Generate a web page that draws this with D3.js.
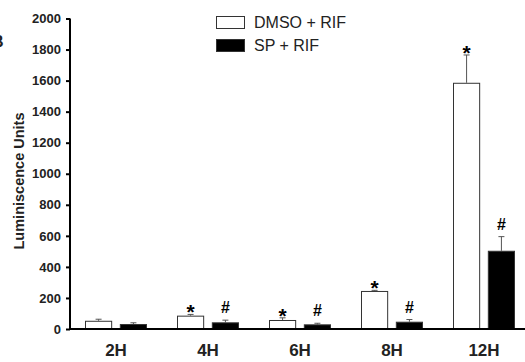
<!DOCTYPE html>
<html><head><meta charset="utf-8">
<script src="https://cdn.jsdelivr.net/npm/d3@7"></script>
<style>body{margin:0;background:#fff}svg{display:block}</style>
</head><body>
<svg id="c" width="525" height="362"></svg>
<script>
const categories = ["2H","4H","6H","8H","12H"];
const seriesNames = ["DMSO + RIF","SP + RIF"];
const dmsoValues = [53, 86, 58, 245, 1586];
const dmsoErrors = [10, 8, 14, 4, 179];
const spValues = [32, 43, 30, 47, 504];
const spErrors = [8, 14, 7, 14, 91];
const dmsoMarks = ["", "*", "*", "*", "*"];
const spMarks = ["", "#", "#", "#", "#"];
const yTicks = [0,200,400,600,800,1000,1200,1400,1600,1800,2000];

const svg = d3.select("#c");
const font = "Arial, 'Liberation Sans', sans-serif";
const y = d3.scaleLinear().domain([0,2000]).range([329,18.5]);
const x0 = d3.scaleBand().domain(categories).range([70,530]).paddingInner(0).paddingOuter(0);
const x1 = d3.scaleBand().domain(seriesNames).range([15, 77]).paddingInner(0.22).paddingOuter(0);
const fills = ["#fff","#000"];

const rows = categories.map((c,i)=>[
  {cat:c, s:seriesNames[0], v:dmsoValues[i], e:dmsoErrors[i], m:dmsoMarks[i]},
  {cat:c, s:seriesNames[1], v:spValues[i], e:spErrors[i], m:spMarks[i]}
]).flat();

// error bars
const eb = svg.append("g").attr("stroke","#555").attr("stroke-width",1);
rows.forEach(d=>{
  const cx = x0(d.cat)+x1(d.s)+x1.bandwidth()/2;
  eb.append("line").attr("x1",cx).attr("x2",cx).attr("y1",y(d.v)).attr("y2",y(d.v+d.e));
  eb.append("line").attr("x1",cx-3).attr("x2",cx+3).attr("y1",y(d.v+d.e)).attr("y2",y(d.v+d.e));
});

// bars
svg.append("g").selectAll("rect").data(rows).join("rect")
  .attr("x",d=>x0(d.cat)+x1(d.s)+0.5)
  .attr("y",d=>y(d.v)+0.5)
  .attr("width",x1.bandwidth()-1)
  .attr("height",d=>y(0)-y(d.v)-0.5)
  .attr("fill",d=>fills[seriesNames.indexOf(d.s)])
  .attr("stroke","#333").attr("stroke-width",1);

// significance marks
svg.append("g").selectAll("text").data(rows.filter(d=>d.m)).join("text")
  .attr("x",d=>x0(d.cat)+x1(d.s)+x1.bandwidth()/2)
  .attr("y",d=>y(d.v+d.e)+(d.m==="*"? 5 : -7))
  .attr("text-anchor","middle")
  .attr("font-family",font).attr("font-weight","bold")
  .attr("font-size",d=>d.m==="*"?21:16)
  .text(d=>d.m);

// y axis
const ya = svg.append("g").attr("transform","translate(70,0)")
  .call(d3.axisLeft(y).tickValues(yTicks).tickSize(4).tickPadding(5).tickFormat(d3.format("d")));
ya.select(".domain").attr("stroke","#000").attr("stroke-width",2).attr("d","M0,"+y(2000)+"V"+y(0));
ya.selectAll(".tick line").attr("stroke","#000").attr("stroke-width",2);
ya.selectAll("text").attr("font-family",font).attr("font-weight","bold").attr("font-size",13).attr("fill","#222");

// x axis
const xa = svg.append("g").attr("transform","translate(0,"+y(0)+")")
  .call(d3.axisBottom(x0).tickSize(0).tickPadding(15));
xa.select(".domain").attr("stroke","#000").attr("stroke-width",2).attr("d","M69,0H525");
xa.selectAll("text").attr("font-family",font).attr("font-weight","bold").attr("font-size",17).attr("fill","#222")
  .attr("x", function(d){ return x1(seriesNames[0]) + (x1(seriesNames[1])+x1.bandwidth()-x1(seriesNames[0]))/2 - x0.bandwidth()/2; });

// y label
svg.append("text").attr("transform","translate(24,181) rotate(-90)")
  .attr("text-anchor","middle").attr("font-family",font).attr("font-weight","bold")
  .attr("font-size",14.5).attr("fill","#222").text("Luminiscence Units");

// panel letter (cropped at the left edge, as in the reference)
svg.append("text").attr("x",-8).attr("y",47).attr("font-family",font).attr("font-weight","bold")
  .attr("font-size",16).attr("fill","#222").text("B");

// legend
const lg = svg.append("g");
seriesNames.forEach((s,i)=>{
  lg.append("rect").attr("x",216.5).attr("y",16.5+i*23).attr("width",28).attr("height",12)
    .attr("fill",fills[i]).attr("stroke","#333");
  lg.append("text").attr("x",254).attr("y",28+i*23).attr("font-family",font)
    .attr("font-size",16).attr("fill","#222").text(s);
});
</script>
</body></html>
